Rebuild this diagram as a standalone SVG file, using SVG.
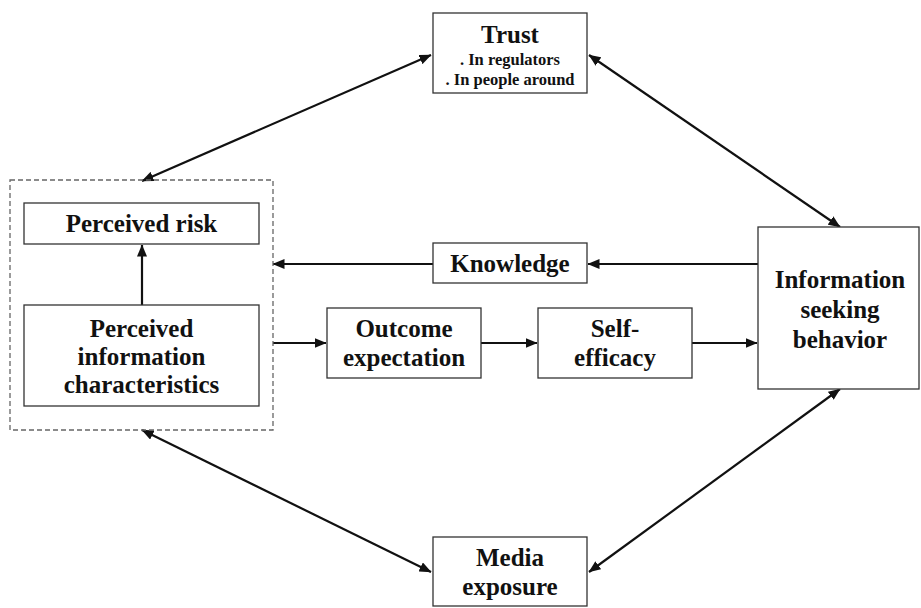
<svg xmlns="http://www.w3.org/2000/svg" width="921" height="608" viewBox="0 0 921 608">
  <style>
    .box { fill: #fff; stroke: #333; stroke-width: 1.3; }
    .group { fill: none; stroke: #666; stroke-width: 1.3; stroke-dasharray: 5 3; }
    .lbl { font-family: "Liberation Serif", "Times New Roman", serif; font-weight: bold; font-size: 25px; fill: #111; text-anchor: middle; }
    .sub { font-size: 16.5px; }
    .conn line { stroke: #111; stroke-width: 2.2; }
  </style>
  <defs>
    <marker id="arr" viewBox="0 0 12 10" refX="11.5" refY="5" markerWidth="12" markerHeight="10" markerUnits="userSpaceOnUse" orient="auto-start-reverse">
      <path d="M0,0 L12,5 L0,10 z" fill="#111"/>
    </marker>
  </defs>
  <rect width="921" height="608" fill="#fff"/>

  <!-- connectors -->
  <g id="connectors" class="conn">
    <line x1="431" y1="55" x2="142" y2="181" marker-start="url(#arr)" marker-end="url(#arr)"/>
    <line x1="589" y1="55" x2="840" y2="227" marker-start="url(#arr)" marker-end="url(#arr)"/>
    <line x1="758" y1="264" x2="588" y2="264" marker-end="url(#arr)"/>
    <line x1="433" y1="264" x2="273" y2="264" marker-end="url(#arr)"/>
    <line x1="142" y1="305" x2="142" y2="245" marker-end="url(#arr)"/>
    <line x1="273" y1="343" x2="326" y2="343" marker-end="url(#arr)"/>
    <line x1="481" y1="343" x2="537" y2="343" marker-end="url(#arr)"/>
    <line x1="692" y1="343" x2="757" y2="343" marker-end="url(#arr)"/>
    <line x1="142" y1="430" x2="431" y2="572" marker-start="url(#arr)" marker-end="url(#arr)"/>
    <line x1="589" y1="572" x2="840" y2="389" marker-start="url(#arr)" marker-end="url(#arr)"/>
  </g>

  <!-- risk perception group -->
  <g id="risk-group">
    <rect class="group" x="10" y="180" width="263" height="250"/>
  </g>

  <g id="trust">
    <rect class="box" x="433" y="13" width="154" height="80"/>
    <text class="lbl" x="510" y="43">Trust</text>
    <text class="lbl sub" x="510" y="65">. In regulators</text>
    <text class="lbl sub" x="510" y="85">. In people around</text>
  </g>

  <g id="perceived-risk">
    <rect class="box" x="24" y="203" width="235" height="41"/>
    <text class="lbl" x="141.5" y="232">Perceived risk</text>
  </g>

  <g id="perceived-info">
    <rect class="box" x="24" y="305" width="235" height="101"/>
    <text class="lbl" x="141.5" y="337">Perceived</text>
    <text class="lbl" x="141.5" y="365">information</text>
    <text class="lbl" x="141.5" y="393">characteristics</text>
  </g>

  <g id="knowledge">
    <rect class="box" x="433" y="243" width="154" height="40"/>
    <text class="lbl" x="510" y="272">Knowledge</text>
  </g>

  <g id="outcome-expectation">
    <rect class="box" x="327" y="308" width="154" height="70"/>
    <text class="lbl" x="404" y="337">Outcome</text>
    <text class="lbl" x="404" y="366">expectation</text>
  </g>

  <g id="self-efficacy">
    <rect class="box" x="538" y="308" width="154" height="70"/>
    <text class="lbl" x="615" y="337">Self-</text>
    <text class="lbl" x="615" y="366">efficacy</text>
  </g>

  <g id="info-seeking">
    <rect class="box" x="758" y="227" width="161" height="162"/>
    <text class="lbl" x="840" y="288">Information</text>
    <text class="lbl" x="840" y="318">seeking</text>
    <text class="lbl" x="840" y="348">behavior</text>
  </g>

  <g id="media-exposure">
    <rect class="box" x="433" y="537" width="154" height="69"/>
    <text class="lbl" x="510" y="566">Media</text>
    <text class="lbl" x="510" y="595">exposure</text>
  </g>
</svg>
